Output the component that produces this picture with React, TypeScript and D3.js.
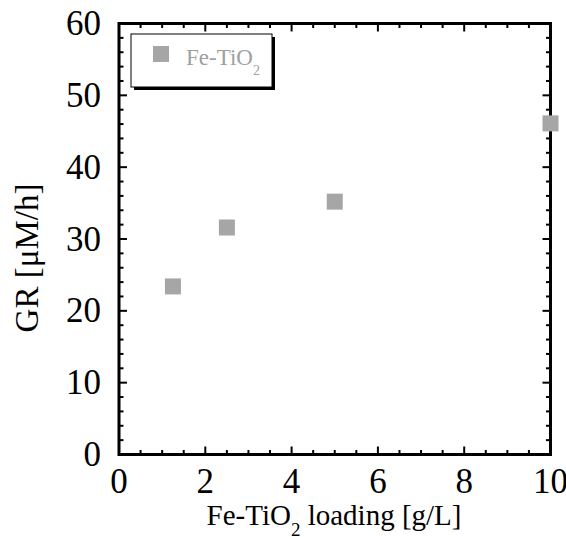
import React from "react";
import * as d3 from "d3";

// Catalyst loading [g/L] and growth rate [µM/h]
const loading = [1.25, 2.5, 5, 10];
const growthRate = [23.4, 31.6, 35.2, 46.1];
const seriesName = "Fe-TiO";
const xMajorTicks = [0, 2, 4, 6, 8, 10];
const yMajorTicks = [0, 10, 20, 30, 40, 50, 60];

const W = 566;
const H = 537;
const FONT = '"Liberation Serif", "DejaVu Serif", "Times New Roman", serif';
const MARKER = "#a6a6a6";

export default function App() {
  const x = d3.scaleLinear().domain([0, 10]).range([119, 550.5]);
  const y = d3.scaleLinear().domain([0, 60]).range([454.5, 23.5]);
  const [x0, x1] = x.range();
  const [y0, y1] = y.range();

  const xMinor = d3.range(0, 10.001, 0.5).filter((v) => !xMajorTicks.includes(v));
  const yMinor = d3.range(0, 60.001, 2).filter((v) => !yMajorTicks.includes(v));
  const major = 8;
  const minor = 4.5;
  const size = 16;
  const txt = { fontFamily: FONT };
  const tickFont = 35;

  return (
    <svg
      width={W}
      height={H}
      style={{ position: "absolute", left: 0, top: 0, background: "#fff", fontFamily: FONT }}
    >
      {/* ticks, pointing inward on all four sides */}
      <g stroke="#000" strokeWidth={2}>
        {xMajorTicks.map((v) => (
          <g key={"xm" + v}>
            <line x1={x(v)} x2={x(v)} y1={y0} y2={y0 - major} />
            <line x1={x(v)} x2={x(v)} y1={y1} y2={y1 + major} />
          </g>
        ))}
        {xMinor.map((v) => (
          <g key={"xn" + v}>
            <line x1={x(v)} x2={x(v)} y1={y0} y2={y0 - minor} />
            <line x1={x(v)} x2={x(v)} y1={y1} y2={y1 + minor} />
          </g>
        ))}
        {yMajorTicks.map((v) => (
          <g key={"ym" + v}>
            <line x1={x0} x2={x0 + major} y1={y(v)} y2={y(v)} />
            <line x1={x1} x2={x1 - major} y1={y(v)} y2={y(v)} />
          </g>
        ))}
        {yMinor.map((v) => (
          <g key={"yn" + v}>
            <line x1={x0} x2={x0 + minor} y1={y(v)} y2={y(v)} />
            <line x1={x1} x2={x1 - minor} y1={y(v)} y2={y(v)} />
          </g>
        ))}
      </g>
      <rect x={x0} y={y1} width={x1 - x0} height={y0 - y1} fill="none" stroke="#000" strokeWidth={3} />

      {/* tick labels */}
      <g fontSize={tickFont} fill="#000">
        {xMajorTicks.map((v) => (
          <text key={"xl" + v} style={txt} x={x(v)} y={493} textAnchor="middle">
            {v}
          </text>
        ))}
        {yMajorTicks.map((v) => (
          <text key={"yl" + v} style={txt} x={101} y={y(v) + 11.5} textAnchor="end">
            {v}
          </text>
        ))}
      </g>

      {/* axis titles */}
      <text style={txt} x={334} y={525} fontSize={29} textAnchor="middle" fill="#000">
        Fe-TiO<tspan fontSize={19} dy={11}>2</tspan>
        <tspan dy={-11}> loading [g/L]</tspan>
      </text>
      <text
        style={txt}
        transform={`translate(38, 258) rotate(-90)`}
        fontSize={33}
        textAnchor="middle"
        fill="#000"
      >
        GR [μM/h]
      </text>

      {/* data markers */}
      <g fill={MARKER}>
        {loading.map((v, i) => (
          <rect
            key={"p" + i}
            x={x(v) - size / 2}
            y={y(growthRate[i]) - size / 2}
            width={size}
            height={size}
          />
        ))}
      </g>

      {/* legend with drop shadow */}
      <rect x={134} y={37} width={141} height={53} fill="#000" />
      <rect x={131} y={34} width={141} height={53} fill="#fff" stroke="#000" strokeWidth={1} />
      <rect x={153} y={46} width={size} height={size} fill={MARKER} />
      <text style={txt} x={186} y={65} fontSize={23} fill="#a0a0a0">
        {seriesName}
        <tspan fontSize={14} dy={10}>2</tspan>
      </text>
    </svg>
  );
}
